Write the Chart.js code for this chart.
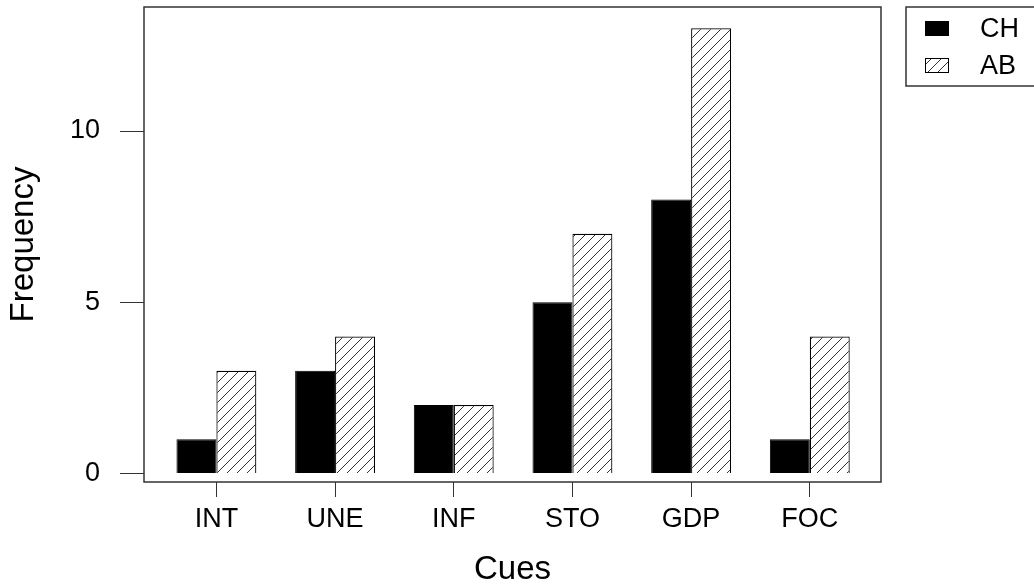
<!DOCTYPE html>
<html>
<head>
<meta charset="utf-8">
<script src="https://cdn.jsdelivr.net/npm/chart.js@4/dist/chart.umd.min.js"></script>
<style>
  body { margin: 0; background: #fff; }
  #wrap { width: 1034px; height: 586px; position: relative; }
</style>
</head>
<body>
<div id="wrap"><canvas id="barChart"></canvas></div>
<script>
const cues = ['INT', 'UNE', 'INF', 'STO', 'GDP', 'FOC'];
const seriesNames = ['CH', 'AB'];
const chValues = [1, 3, 2, 5, 8, 1];
const abValues = [3, 4, 2, 7, 13, 4];
const yTickValues = [0, 5, 10];

const FONT = '"Liberation Sans", Arial, sans-serif';

// diagonal hatch like R's density/angle=45
function makeHatch() {
    const c = document.createElement('canvas');
    c.width = 10;
    c.height = 10;
    const g = c.getContext('2d');
    g.fillStyle = '#fff';
    g.fillRect(0, 0, 10, 10);
    g.strokeStyle = '#333';
    g.lineWidth = 1;
    g.beginPath();
    g.moveTo(-1, 11); g.lineTo(11, -1);
    g.moveTo(-1, 1); g.lineTo(1, -1);
    g.moveTo(9, 11); g.lineTo(11, 9);
    g.stroke();
    return g.createPattern(c, 'repeat');
}
const hatch = makeHatch();

// box round the plot and legend at top right
const boxPlugin = {
    id: 'boxAndLegend',
    afterDraw(chart) {
        const { ctx, chartArea: a } = chart;
        ctx.save();
        ctx.strokeStyle = '#333';
        ctx.lineWidth = 1.5;
        ctx.strokeRect(Math.round(a.left), Math.round(a.top), Math.round(a.right - a.left), Math.round(a.bottom - a.top));

        ctx.strokeRect(906, 7, 200, 79);
        const rows = [28.5, 65.5];
        chart.data.datasets.forEach((ds, i) => {
            ctx.fillStyle = ds.backgroundColor;
            ctx.fillRect(925, rows[i] - 7.5, 24, 15);
            ctx.strokeStyle = '#000';
            ctx.lineWidth = 1;
            ctx.strokeRect(925.5, rows[i] - 7, 23, 14);
            ctx.fillStyle = '#000';
            ctx.font = '27px ' + FONT;
            ctx.textBaseline = 'middle';
            ctx.fillText(ds.label, 980, rows[i] + 1);
        });
        ctx.restore();
    }
};

const ctx = document.getElementById('barChart').getContext('2d');
new Chart(ctx, {
    type: 'bar',
    data: {
        datasets: [{
            label: seriesNames[0],
            data: chValues.map((v, i) => ({ x: i + 1, y: v })),
            backgroundColor: '#000',
            borderColor: '#000',
            borderWidth: 1,
            categoryPercentage: 0.673,
            barPercentage: 1
        }, {
            label: seriesNames[1],
            data: abValues.map((v, i) => ({ x: i + 1, y: v })),
            backgroundColor: hatch,
            borderColor: '#000',
            borderWidth: 1.2,
            categoryPercentage: 0.673,
            barPercentage: 1
        }]
    },
    options: {
        responsive: true,
        maintainAspectRatio: false,
        animation: false,
        layout: { padding: { top: 7, right: 153, left: 0, bottom: 0 } },
        plugins: { legend: { display: false }, tooltip: { enabled: false } },
        scales: {
            x: {
                type: 'linear',
                offset: false,
                min: 0.39,
                max: 6.60,
                afterBuildTicks: s => { s.ticks = cues.map((c, i) => ({ value: i + 1 })); },
                afterFit: s => { s.height = 104; s.paddingLeft = 0; s.paddingRight = 0; },
                ticks: {
                    autoSkip: false,
                    maxRotation: 0,
                    padding: 6,
                    color: '#000',
                    font: { family: FONT, size: 27 },
                    callback: v => cues[v - 1]
                },
                grid: { offset: false, drawOnChartArea: false, drawTicks: true, tickLength: 15, color: '#333' },
                border: { display: false },
                title: {
                    display: true,
                    text: 'Cues',
                    color: '#000',
                    font: { family: FONT, size: 33, lineHeight: 1.0 },
                    padding: { top: 0, bottom: 0 }
                }
            },
            y: {
                min: -0.245,
                max: 13.62,
                afterBuildTicks: s => { s.ticks = yTickValues.map(v => ({ value: v })); },
                afterFit: s => { s.width = 144; s.paddingTop = 0; s.paddingBottom = 0; },
                ticks: {
                    padding: 20,
                    color: '#000',
                    font: { family: FONT, size: 27 }
                },
                grid: { drawOnChartArea: false, drawTicks: true, tickLength: 24, color: '#333' },
                border: { display: false },
                title: {
                    display: true,
                    text: 'Frequency',
                    color: '#000',
                    font: { family: FONT, size: 33, lineHeight: 1.0 },
                    padding: { top: 7, bottom: 0 }
                }
            }
        }
    },
    plugins: [boxPlugin]
});
</script>
</body>
</html>
